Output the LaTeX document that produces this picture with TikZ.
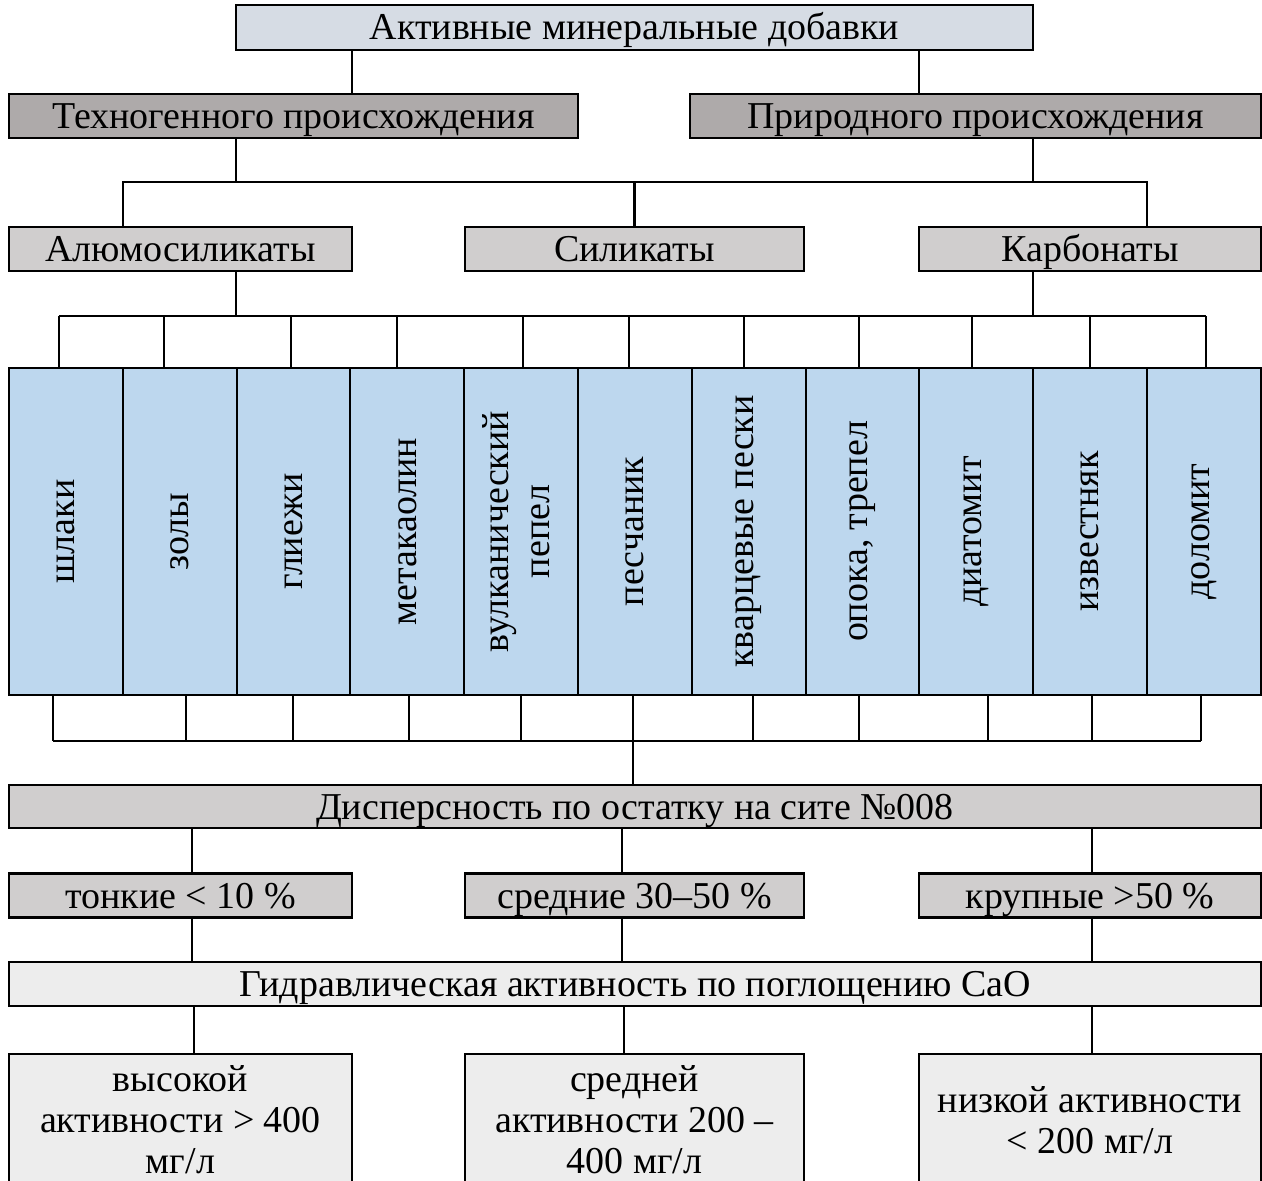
\documentclass[tikz,border=0pt]{standalone}
\usepackage{fontspec}
\setmainfont{Liberation Serif}
\usetikzlibrary{positioning, calc}
\definecolor{topBlue}{HTML}{D6DCE4}
\definecolor{originGray}{HTML}{AEAAAA}
\definecolor{groupGray}{HTML}{D0CECE}
\definecolor{kindBlue}{HTML}{BDD7EE}
\definecolor{actGray}{HTML}{EDEDED}

\begin{document}
\begin{tikzpicture}[
    box/.style={rectangle, draw, line width=1.2pt, minimum height=0.88cm, inner sep=2pt, outer sep=0pt, align=center, font=\fontsize{21.6}{23.4}\selectfont},
    bar/.style={box, text height=14.2pt, text depth=0pt},
    col/.style={box, fill=kindBlue, minimum width=2.276cm, minimum height=6.54cm},
    link/.style={line width=1.2pt},
]
    \useasboundingbox (0,0) rectangle (25.24,-23.6);
    % levels of the classification
    \node[bar, fill=topBlue, minimum width=15.94cm, minimum height=0.9cm] (top) at (12.69,-0.55) {Активные минеральные добавки};
    \node[bar, fill=originGray, minimum width=11.38cm] (tech) at (5.87,-2.32) {Техногенного происхождения};
    \node[bar, fill=originGray, minimum width=11.42cm] (nat) at (19.51,-2.32) {Природного происхождения};
    \node[bar, fill=groupGray, minimum width=6.86cm] (alu) at (3.61,-4.98) {Алюмосиликаты};
    \node[bar, fill=groupGray, minimum width=6.78cm] (sil) at (12.69,-4.98) {Силикаты};
    \node[bar, fill=groupGray, minimum width=6.84cm] (carb) at (21.8,-4.98) {Карбонаты};
    % kinds of additives
    \node[col] (c1) at (1.318,-10.63) {\rotatebox{90}{шлаки}};
    \node[col, right=0pt of c1] (c2) {\rotatebox{90}{золы}};
    \node[col, right=0pt of c2] (c3) {\rotatebox{90}{глиежи}};
    \node[col, right=0pt of c3] (c4) {\rotatebox{90}{метакаолин}};
    \node[col, right=0pt of c4] (c5) {\rotatebox{90}{\begin{tabular}{@{}c@{}}вулканический\\пепел\end{tabular}}};
    \node[col, right=0pt of c5] (c6) {\rotatebox{90}{песчаник}};
    \node[col, right=0pt of c6] (c7) {\rotatebox{90}{кварцевые пески}};
    \node[col, right=0pt of c7] (c8) {\rotatebox{90}{опока, трепел}};
    \node[col, right=0pt of c8] (c9) {\rotatebox{90}{диатомит}};
    \node[col, right=0pt of c9] (c10) {\rotatebox{90}{известняк}};
    \node[col, right=0pt of c10] (c11) {\rotatebox{90}{доломит}};
    % fineness and activity
    \node[bar, fill=groupGray, minimum width=25.04cm, minimum height=0.86cm] (disp) at (12.7,-16.13) {Дисперсность по остатку на сите №008};
    \node[bar, fill=groupGray, minimum width=6.86cm] (fine) at (3.61,-17.91) {тонкие < 10 \%};
    \node[bar, fill=groupGray, minimum width=6.78cm] (med) at (12.69,-17.91) {средние 30–50 \%};
    \node[bar, fill=groupGray, minimum width=6.84cm] (coarse) at (21.8,-17.91) {крупные >50 \%};
    \node[bar, fill=actGray, minimum width=25.04cm] (hyd) at (12.7,-19.68) {Гидравлическая активность по поглощению CaO};
    \node[box, fill=actGray, minimum width=6.86cm, minimum height=2.64cm] (high) at (3.61,-22.4) {высокой\\активности > 400\\мг/л};
    \node[box, fill=actGray, minimum width=6.78cm, minimum height=2.64cm] (mid) at (12.69,-22.4) {средней\\активности 200 –\\400 мг/л};
    \node[box, fill=actGray, minimum width=6.84cm, minimum height=2.64cm] (low) at (21.8,-22.4) {низкой активности\\< 200 мг/л};

    \coordinate (bus1) at (0,-3.64);
    \coordinate (bus2) at (0,-6.32);
    \coordinate (bus3) at (0,-14.82);
    % upper tree
    \draw[link] (top.south -| alu.east) -- (tech.north -| alu.east);
    \draw[link] (top.south -| carb.west) -- (nat.north -| carb.west);
    \draw[link] (tech.south -| top.west) -- (bus1 -| top.west);
    \draw[link] (nat.south -| top.east) -- (bus1 -| top.east);
    \draw[link] (alu.north -| c1.east) -- (bus1 -| c1.east) -- (bus1 -| c10.east) -- (carb.north -| c10.east);
    \draw[link] (sil.north) -- (sil.north |- bus1);
    \draw[link] (alu.south -| top.west) -- (bus2 -| top.west);
    \draw[link] (carb.south -| top.east) -- (bus2 -| top.east);
    % drops to and from the columns
    \foreach \i/\dt/\db in {1/-0.14/-0.26, 2/-0.32/0.12, 3/-0.05/-0.01, 4/-0.2/0.04, 5/0.04/0, 6/-0.12/-0.04, 7/-0.1/0.08, 8/-0.07/-0.07, 9/-0.08/0.24, 10/0/0.04, 11/0.04/-0.06} {
        \coordinate (t\i) at ([xshift=\dt cm]c\i.north);
        \coordinate (b\i) at ([xshift=\db cm]c\i.south);
        \draw[link] (t\i) -- (t\i |- bus2);
        \draw[link] (b\i) -- (b\i |- bus3);
    }
    \draw[link] (t1 |- bus2) -- (t11 |- bus2);
    \draw[link] (b1 |- bus3) -- (b11 |- bus3);
    \draw[link] (b6 |- bus3) -- (b6 |- disp.north);
    % lower tree
    \foreach \n/\dx in {fine/0.23, med/-0.25, coarse/0.04} {
        \draw[link] ([xshift=\dx cm]\n.north) -- ([xshift=\dx cm]\n.north |- disp.south);
        \draw[link] ([xshift=\dx cm]\n.south) -- ([xshift=\dx cm]\n.south |- hyd.north);
    }
    \foreach \n/\dx in {high/0.27, mid/-0.21, low/0.04} {
        \draw[link] ([xshift=\dx cm]\n.north) -- ([xshift=\dx cm]\n.north |- hyd.south);
    }
\end{tikzpicture}
\end{document}
